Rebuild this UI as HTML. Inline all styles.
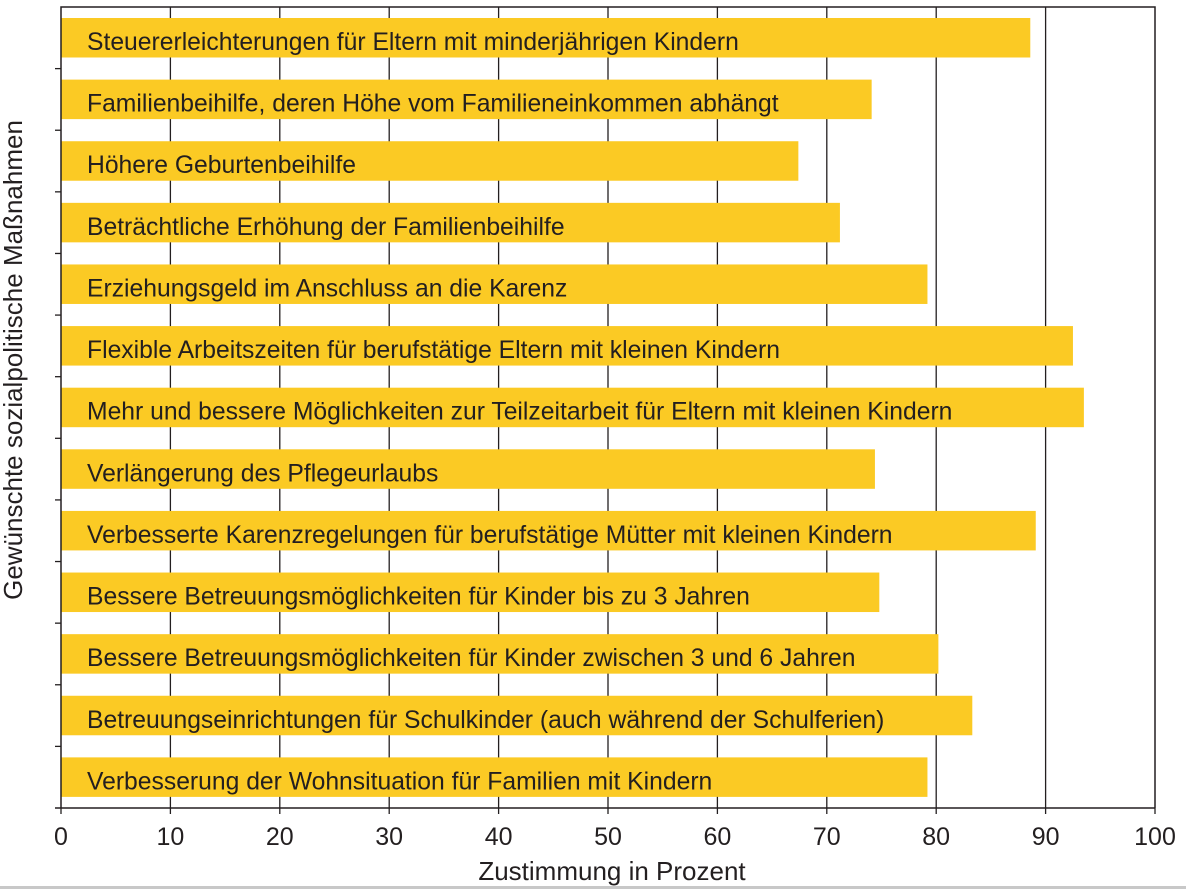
<!DOCTYPE html>
<html><head><meta charset="utf-8"><style>
html,body{margin:0;padding:0;background:#fff;width:1186px;height:889px;overflow:hidden}
svg text{font-family:"Liberation Sans",Arial,sans-serif;fill:#231f20}
</style></head><body>
<svg id="chart" width="1186" height="889" xmlns="http://www.w3.org/2000/svg">
<g id="grid"></g>
<g id="bars"></g>
<g id="axes"></g>
<text x="612" y="880" font-size="26" text-anchor="middle">Zustimmung in Prozent</text>
<text transform="translate(22,360) rotate(-90)" font-size="26" text-anchor="middle">Gewünschte sozialpolitische Maßnahmen</text>
<rect x="0" y="886" width="1186" height="3" fill="#c8c8c8"/>
</svg>
<script>
const categories=["Steuererleichterungen für Eltern mit minderjährigen Kindern","Familienbeihilfe, deren Höhe vom Familieneinkommen abhängt","Höhere Geburtenbeihilfe","Beträchtliche Erhöhung der Familienbeihilfe","Erziehungsgeld im Anschluss an die Karenz","Flexible Arbeitszeiten für berufstätige Eltern mit kleinen Kindern","Mehr und bessere Möglichkeiten zur Teilzeitarbeit für Eltern mit kleinen Kindern","Verlängerung des Pflegeurlaubs","Verbesserte Karenzregelungen für berufstätige Mütter mit kleinen Kindern","Bessere Betreuungsmöglichkeiten für Kinder bis zu 3 Jahren","Bessere Betreuungsmöglichkeiten für Kinder zwischen 3 und 6 Jahren","Betreuungseinrichtungen für Schulkinder (auch während der Schulferien)","Verbesserung der Wohnsituation für Familien mit Kindern"];
const values=[88.6,74.1,67.4,71.2,79.2,92.5,93.5,74.4,89.1,74.8,80.2,83.3,79.2];
const xTicks=[0,10,20,30,40,50,60,70,80,90,100];
const NS="http://www.w3.org/2000/svg";
const L=61,R=1155,T=7,B=808;
const xs=v=>L+(v/100)*(R-L);
const rowH=(B-T)/categories.length;
const ys=i=>T+i*rowH;
function mk(tag,attrs,parent){const e=document.createElementNS(NS,tag);for(const k in attrs)e.setAttribute(k,attrs[k]);parent.appendChild(e);return e;}
const grid=document.getElementById('grid'),bars=document.getElementById('bars'),axes=document.getElementById('axes');
xTicks.forEach(t=>{
  if(t>0&&t<100){const g=mk('line',{x1:xs(t),x2:xs(t),y1:T,y2:B,stroke:'#231f20','stroke-width':1.3},grid);
  
  }
  const tk=mk('line',{x1:xs(t),x2:xs(t),y1:B,y2:B+6,stroke:'#231f20','stroke-width':1.3},axes);
  
  
  const lb=mk('text',{x:xs(t),y:845,'font-size':25,'text-anchor':'middle'},axes);
  lb.textContent=t;
  
  
});
categories.forEach((c,i)=>{
  const y=ys(i);
  const r=mk('rect',{x:L,y:y+11,width:xs(values[i])-L,height:39.5,fill:'#fbca24'},bars);
  
  
  const t=mk('text',{x:87,y:y+43,'font-size':24.7},bars);
  t.textContent=c;
  
  
  if(i>0){const tk=mk('line',{x1:55,x2:L,y1:y,y2:y,stroke:'#231f20','stroke-width':1.3},axes);
  
  }
});
const fr=mk('path',{d:`M${L},${B} L${L},${T} L${R},${T} L${R},${B}`,fill:'none',stroke:'#231f20','stroke-width':1.5},axes);


const xa=mk('line',{x1:55,x2:R,y1:B,y2:B,stroke:'#231f20','stroke-width':1.5},axes);


</script>
</body></html>
